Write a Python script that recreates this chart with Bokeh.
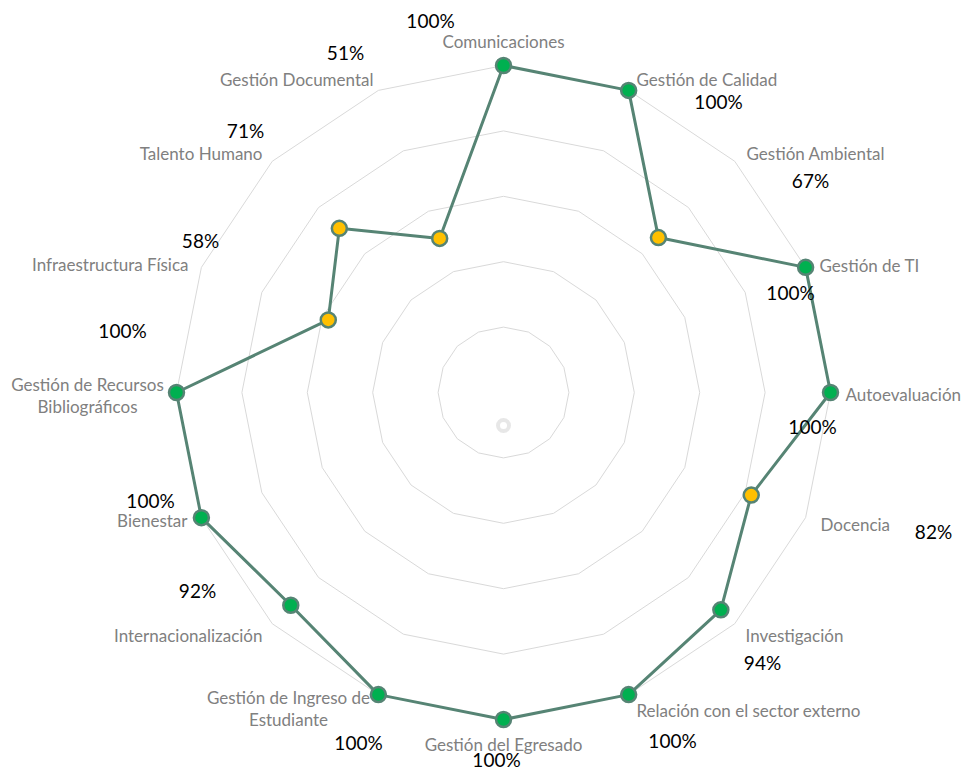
import math
from bokeh.plotting import figure
from bokeh.models import Range1d
from bokeh.core.properties import value
from bokeh.embed import file_html
from bokeh.resources import INLINE

# ---- data ----
categories = [
    "Comunicaciones", "Gestión de Calidad", "Gestión Ambiental", "Gestión de TI",
    "Autoevaluación", "Docencia", "Investigación", "Relación con el sector externo",
    "Gestión del Egresado", "Gestión de Ingreso de\nEstudiante", "Internacionalización",
    "Bienestar", "Gestión de Recursos\nBibliográficos", "Infraestructura Física",
    "Talento Humano", "Gestión Documental",
]
values = [1.00, 1.00, 0.67, 1.00, 1.00, 0.82, 0.94, 1.00,
          1.00, 1.00, 0.92, 1.00, 1.00, 0.58, 0.71, 0.51]
value_labels = ["100%", "100%", "67%", "100%", "100%", "82%", "94%", "100%",
                "100%", "100%", "92%", "100%", "100%", "58%", "71%", "51%"]
grid_levels = [0.2, 0.4, 0.6, 0.8, 1.0]
threshold = 0.9

# ---- layout (pixel positions of labels in the page frame) ----
CX, CY, R = 503, 392, 327
W, H = 966, 773

def px(x, y):
    return (x - CX) / R, (CY - y) / R

cat_pos = [(503, 41, "center"), (636, 79, "left"), (746, 153, "left"), (819, 265, "left"),
           (845, 394, "left"), (820, 524, "left"), (745, 635, "left"), (636, 710, "left"),
           (503, 744, "center"), (288, 708, "center"), (262, 635, "right"), (187, 520, "right"),
           (87, 395, "center"), (188, 264, "right"), (262, 153, "right"), (373, 79, "right")]
val_pos = [(430, 20), (718, 101), (810, 180), (790, 292), (812, 426), (933, 531),
           (762, 662), (672, 740), (496, 759), (358, 742), (197, 590), (150, 500),
           (122, 330), (200, 240), (245, 130), (345, 52)]

n = len(categories)
angles = [2 * math.pi * i / n for i in range(n)]

x0, y0 = px(0, 0)
x1, y1 = px(W, H)
p = figure(width=W, height=H, output_backend="svg", toolbar_location=None,
           x_range=Range1d(x0, x1), y_range=Range1d(y1, y0),
           min_border=0, outline_line_color=None)
p.axis.visible = False
p.grid.visible = False
p.background_fill_color = "white"

# grid rings
gx = [[lv * math.sin(a) for a in angles + [angles[0]]] for lv in grid_levels]
gy = [[lv * math.cos(a) for a in angles + [angles[0]]] for lv in grid_levels]
p.multi_line(gx, gy, line_color="#d9d9d9", line_width=1)

# faint center artefact
p.scatter([0], [px(503, 425)[1]], size=11, fill_color=None,
          line_color="#d4d4d4", line_width=4, line_alpha=0.55)

# series
xs = [v * math.sin(a) for v, a in zip(values, angles)]
ys = [v * math.cos(a) for v, a in zip(values, angles)]
p.line(xs + [xs[0]], ys + [ys[0]], line_color="#568474", line_width=3)
colors = ["#00B050" if v >= threshold else "#FFC000" for v in values]
p.scatter(xs, ys, size=15, fill_color=colors, line_color="#568474", line_width=2.5)

# category labels
for (x, y, al), c in zip(cat_pos, categories):
    tx, ty = px(x, y)
    p.text([tx], [ty], text=[c], text_align=al, text_baseline="middle",
           text_font=value("Lato"), text_font_size="17px", text_color="#808080",
           text_line_height=1.05)

# value labels
vx = [px(x, y)[0] for x, y in val_pos]
vy = [px(x, y)[1] for x, y in val_pos]
p.text(vx, vy, text=value_labels, text_align="center", text_baseline="middle",
       text_font=value("Lato"), text_font_size="19px", text_color="#000000")

open("out.html", "w").write(file_html(p, INLINE))
